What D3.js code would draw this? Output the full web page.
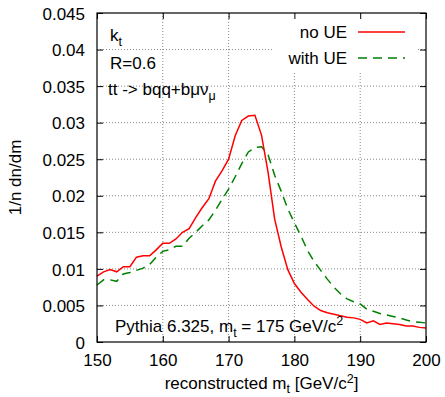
<!DOCTYPE html>
<html>
<head>
<meta charset="utf-8">
<script src="https://d3js.org/d3.v7.min.js"></script>
<style>
  body { margin: 0; background: #fff; }
  text { font-family: "Liberation Sans", Arial, Helvetica, sans-serif; font-size: 17px; fill: #000; }
</style>
</head>
<body>
<script>
// reconstructed top mass, bins of 1 GeV
var mass = d3.range(150, 201);

var noUE = [
  0.0090, 0.0096, 0.0099, 0.0096, 0.0103, 0.0103, 0.0116, 0.0118, 0.0118, 0.0126,
  0.0135, 0.0135, 0.0141, 0.0150, 0.0155, 0.0170, 0.0184, 0.0196, 0.0220, 0.0234,
  0.0250, 0.0282, 0.0303, 0.0309, 0.0310, 0.0283, 0.0232, 0.0168, 0.0130, 0.0099,
  0.0080, 0.0068, 0.0058, 0.0049, 0.0043, 0.0040, 0.0038, 0.0036, 0.0034, 0.0033,
  0.0031, 0.0026, 0.0029, 0.0024, 0.0026, 0.0025, 0.0024, 0.0022, 0.0022, 0.0020,
  0.0019
];

var withUE = [
  0.0078, 0.0085, 0.0085, 0.0083, 0.0093, 0.0095, 0.0098, 0.0101, 0.0106, 0.0116,
  0.0124, 0.0126, 0.0131, 0.0131, 0.0142, 0.0150, 0.0159, 0.0167, 0.0180, 0.0195,
  0.0209, 0.0226, 0.0244, 0.0260, 0.0266, 0.0267, 0.0256, 0.0228, 0.0206, 0.0182,
  0.0163, 0.0145, 0.0125, 0.0110, 0.0098, 0.0086, 0.0075, 0.0066, 0.0059, 0.0055,
  0.0052, 0.0045, 0.0042, 0.0039, 0.0037, 0.0035, 0.0033, 0.0030, 0.0028, 0.0027,
  0.0026
];

var xTicks = [150, 160, 170, 180, 190, 200];
var yTicks = [0, 0.005, 0.01, 0.015, 0.02, 0.025, 0.03, 0.035, 0.04, 0.045];

var series = [
  {name: "no UE", values: noUE, color: "#ff0000", dash: null},
  {name: "with UE", values: withUE, color: "#008000", dash: "9,6"}
];

var margin = {top: 13, right: 19, bottom: 55, left: 97};
var width = 445 - margin.left - margin.right,
    height = 397 - margin.top - margin.bottom;

var svg = d3.select("body").append("svg")
    .attr("width", 445)
    .attr("height", 397);

var g = svg.append("g")
    .attr("transform", "translate(" + margin.left + "," + margin.top + ")");

var x = d3.scaleLinear().domain([150, 200]).range([0, width]);
var y = d3.scaleLinear().domain([0, 0.045]).range([height, 0]);

// grid
g.append("g").selectAll("line.gx")
  .data(xTicks.slice(1, -1)).enter().append("line")
    .attr("x1", d => x(d)).attr("x2", d => x(d))
    .attr("y1", 0).attr("y2", height)
    .attr("stroke", "#888").attr("stroke-width", 1)
    .attr("stroke-dasharray", "1,2");

g.append("g").selectAll("line.gy")
  .data(yTicks.slice(1, -1)).enter().append("line")
    .attr("x1", 0).attr("x2", width)
    .attr("y1", d => y(d)).attr("y2", d => y(d))
    .attr("stroke", "#888").attr("stroke-width", 1)
    .attr("stroke-dasharray", "1,2");

// opaque key box
g.append("rect")
  .attr("x", 176).attr("y", 0.5)
  .attr("width", 144).attr("height", 58)
  .attr("fill", "#fff");

// axes, ticks inward
var xAxis = g.append("g")
  .attr("transform", "translate(0," + height + ")")
  .call(d3.axisBottom(x).tickValues(xTicks).tickSize(-6).tickPadding(12).tickFormat(d3.format("d")));
var xTop = g.append("g")
  .call(d3.axisTop(x).tickValues(xTicks).tickSize(-6).tickFormat(""));
var yAxis = g.append("g")
  .call(d3.axisLeft(y).tickValues(yTicks).tickSize(-6).tickPadding(12)
    .tickFormat(d => d === 0 ? "0" : d3.format("")(+d.toFixed(3))));
var yRight = g.append("g")
  .attr("transform", "translate(" + width + ",0)")
  .call(d3.axisRight(y).tickValues(yTicks).tickSize(-6).tickFormat(""));

[xAxis, xTop, yAxis, yRight].forEach(function (a) {
  a.select(".domain").remove();
  a.selectAll("text").style("font-size", "17px").attr("fill", "#000");
  a.selectAll("line").attr("stroke", "#000");
});
yAxis.selectAll("text").attr("dy", "0.36em");

// curves
var line = d3.line()
  .x((d, i) => x(mass[i]))
  .y(d => y(d));

g.selectAll("path.curve")
  .data(series.slice().reverse()).enter().append("path")
    .attr("fill", "none")
    .attr("stroke", d => d.color)
    .attr("stroke-width", 1.5)
    .attr("stroke-dasharray", d => d.dash)
    .attr("d", d => line(d.values));

// border
g.append("rect")
  .attr("width", width).attr("height", height)
  .attr("fill", "none").attr("stroke", "#000").attr("stroke-width", 1.2);

// key
var key = g.append("g");
series.forEach(function (s, i) {
  var ky = 19 + i * 26;
  key.append("text")
    .attr("x", 250).attr("y", ky).attr("dy", "0.36em")
    .attr("text-anchor", "end")
    .text(s.name);
  key.append("line")
    .attr("x1", 261).attr("x2", 308)
    .attr("y1", ky).attr("y2", ky)
    .attr("stroke", s.color).attr("stroke-width", 1.5)
    .attr("stroke-dasharray", s.dash);
});

// labels inside the frame
var t1 = g.append("text").attr("x", 13).attr("y", 28);
t1.append("tspan").text("k");
t1.append("tspan").attr("dy", 5).style("font-size", "12.5px").text("t");

g.append("text").attr("x", 13).attr("y", 56).text("R=0.6");

var t3 = g.append("text").attr("x", 11).attr("y", 82);
t3.append("tspan").text("tt -> bqq+bμν");
t3.append("tspan").attr("dy", 5).style("font-size", "12.5px").text("μ");

var t4 = g.append("text").attr("x", 18).attr("y", 319);
t4.append("tspan").text("Pythia 6.325, m");
t4.append("tspan").attr("dy", 5).style("font-size", "12.5px").text("t");
t4.append("tspan").attr("dy", -5).text(" = 175 GeV/c");
t4.append("tspan").attr("dy", -7).style("font-size", "12.5px").text("2");

// axis titles
var xl = svg.append("text")
  .attr("x", margin.left + width / 2).attr("y", 389)
  .attr("text-anchor", "middle");
xl.append("tspan").text("reconstructed m");
xl.append("tspan").attr("dy", 4).style("font-size", "12.5px").text("t");
xl.append("tspan").attr("dy", -4).text(" [GeV/c");
xl.append("tspan").attr("dy", -6).style("font-size", "12.5px").text("2");
xl.append("tspan").attr("dy", 6).text("]");

svg.append("text")
  .attr("transform", "translate(21," + (margin.top + height / 2) + ") rotate(-90)")
  .attr("text-anchor", "middle")
  .text("1/n dn/dm");
</script>
</body>
</html>
